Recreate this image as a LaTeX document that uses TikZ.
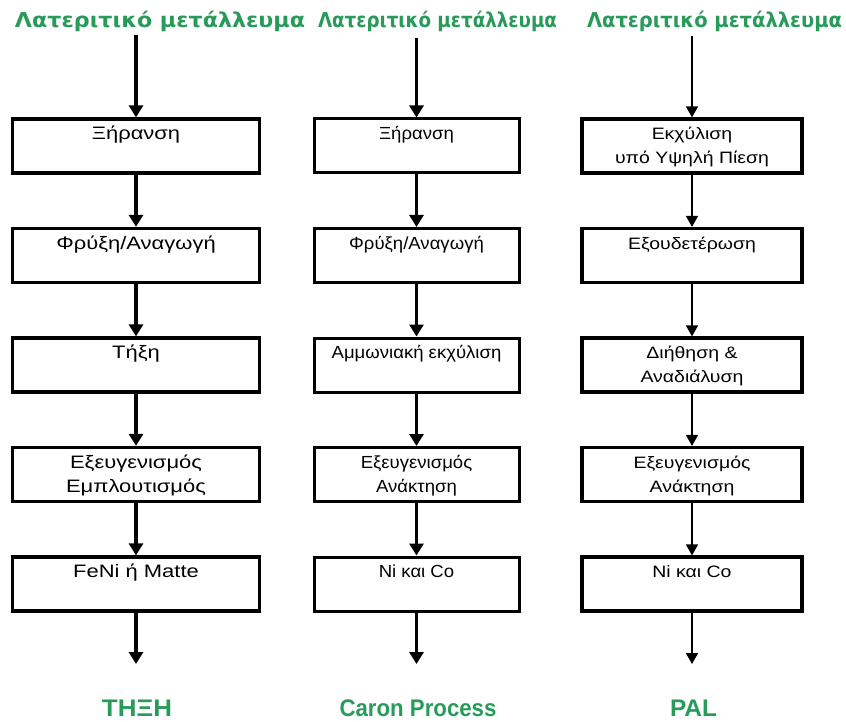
\documentclass[tikz,border=0pt]{standalone}
\usepackage{fontspec}
\usepackage{graphicx}
\usepackage{xcolor}
\setmainfont{Liberation Sans}
\newfontfamily\stagefont[FakeStretch=1.22]{Liberation Sans}
\newfontfamily\palfont[FakeStretch=1.18]{Liberation Sans}
\newfontfamily\caronfont[FakeStretch=1.06]{Liberation Sans}
\newfontfamily\titlefont{DejaVu Sans}
\usepackage{tikz}
\usetikzlibrary{arrows.meta, positioning}
\definecolor{oregreen}{RGB}{40,155,90}
\newcommand{\stagetext}[1]{\parbox[t][46pt][t]{200pt}{\centering\strut #1}}

\begin{document}
\begin{tikzpicture}[x=1pt, y=-1pt,
    stage/.style={rectangle, draw, line width=3.3pt, minimum height=54pt, inner xsep=0pt, inner ysep=4pt, font=\stagefont\fontsize{18}{24}\selectfont},
    stagetwo/.style={stage, line width=3pt, font=\caronfont\fontsize{17.5}{24}\selectfont},
    stagethree/.style={stage, line width=3.2pt, font=\palfont\fontsize{16.5}{24}\selectfont},
    ore/.style={anchor=base, inner sep=0pt, text=oregreen, font=\titlefont\bfseries\fontsize{20.5}{24}\selectfont},
    route/.style={anchor=base, inner sep=0pt, text=oregreen, font=\bfseries\fontsize{24}{28}\selectfont},
    flow/.style={-{Triangle[width=14pt,length=12pt]}, line width=3.2pt},
    thinflow/.style={-{Triangle[width=12pt,length=11pt]}, line width=1.6pt}
]
\fill[white] (0,0) rectangle (846,722);
\useasboundingbox (0,0) rectangle (846,722);

% column 1: smelting
\node[ore] (ore1) at (160,28) {\resizebox{290pt}{\height}{Λατεριτικό μετάλλευμα}};
\coordinate (in1) at (136,35);
\node[stage, minimum width=247pt] (dry1) at (136,146) {\stagetext{Ξήρανση}};
\node[stage, minimum width=247pt] (roast1) at (136,255.5) {\stagetext{Φρύξη/Αναγωγή}};
\node[stage, minimum width=247pt] (melt1) at (136,365) {\stagetext{Τήξη}};
\node[stage, minimum width=247pt] (refine1) at (136,474.5) {\stagetext{Εξευγενισμός\\Εμπλουτισμός}};
\node[stage, minimum width=247pt] (prod1) at (136,584) {\stagetext{FeNi ή Matte}};
\coordinate (out1) at (136,664);
\node[route] (smelt) at (137,716) {\resizebox{70pt}{\height}{ΤΗΞΗ}};

\draw[flow] (in1) -- (dry1);
\draw[flow] (dry1) -- (roast1);
\draw[flow] (roast1) -- (melt1);
\draw[flow] (melt1) -- (refine1);
\draw[flow] (refine1) -- (prod1);
\draw[flow] (prod1) -- (out1);

% column 2: Caron
\node[ore] (ore2) at (437.5,28) {\resizebox{239pt}{\height}{Λατεριτικό μετάλλευμα}};
\coordinate (in2) at (416.5,38);
\node[stagetwo, minimum width=205pt] (dry2) at (416.5,146) {\stagetext{Ξήρανση}};
\node[stagetwo, minimum width=205pt] (roast2) at (416.5,255.5) {\stagetext{Φρύξη/Αναγωγή}};
\node[stagetwo, minimum width=205pt] (leach2) at (416.5,365) {\stagetext{Αμμωνιακή εκχύλιση}};
\node[stagetwo, minimum width=205pt] (refine2) at (416.5,474.5) {\stagetext{Εξευγενισμός\\Ανάκτηση}};
\node[stagetwo, minimum width=205pt] (prod2) at (416.5,584) {\stagetext{Ni και Co}};
\coordinate (out2) at (416.5,664);
\node[route] (caron) at (418,716) {\resizebox{157pt}{\height}{Caron Process}};

\draw[flow, line width=2.8pt] (in2) -- (dry2);
\draw[flow, line width=2.8pt] (dry2) -- (roast2);
\draw[flow, line width=2.8pt] (roast2) -- (leach2);
\draw[flow, line width=2.8pt] (leach2) -- (refine2);
\draw[flow, line width=2.8pt] (refine2) -- (prod2);
\draw[flow, line width=2.8pt] (prod2) -- (out2);

% column 3: PAL
\node[ore] (ore3) at (714.5,28) {\resizebox{255pt}{\height}{Λατεριτικό μετάλλευμα}};
\coordinate (in3) at (692,36);
\node[stagethree, minimum width=220pt] (leach3) at (692,146) {\stagetext{Εκχύλιση\\υπό Υψηλή Πίεση}};
\node[stagethree, minimum width=220pt] (neut3) at (692,255.5) {\stagetext{Εξουδετέρωση}};
\node[stagethree, minimum width=220pt] (filt3) at (692,365) {\stagetext{Διήθηση \&\\Αναδιάλυση}};
\node[stagethree, minimum width=220pt] (refine3) at (692,474.5) {\stagetext{Εξευγενισμός\\Ανάκτηση}};
\node[stagethree, minimum width=220pt] (prod3) at (692,584) {\stagetext{Ni και Co}};
\coordinate (out3) at (692,664);
\node[route] (pal) at (693.5,716) {\resizebox{47pt}{\height}{PAL}};

\draw[thinflow] (in3) -- (leach3);
\draw[thinflow] (leach3) -- (neut3);
\draw[thinflow] (neut3) -- (filt3);
\draw[thinflow] (filt3) -- (refine3);
\draw[thinflow] (refine3) -- (prod3);
\draw[thinflow] (prod3) -- (out3);
\end{tikzpicture}
\end{document}
